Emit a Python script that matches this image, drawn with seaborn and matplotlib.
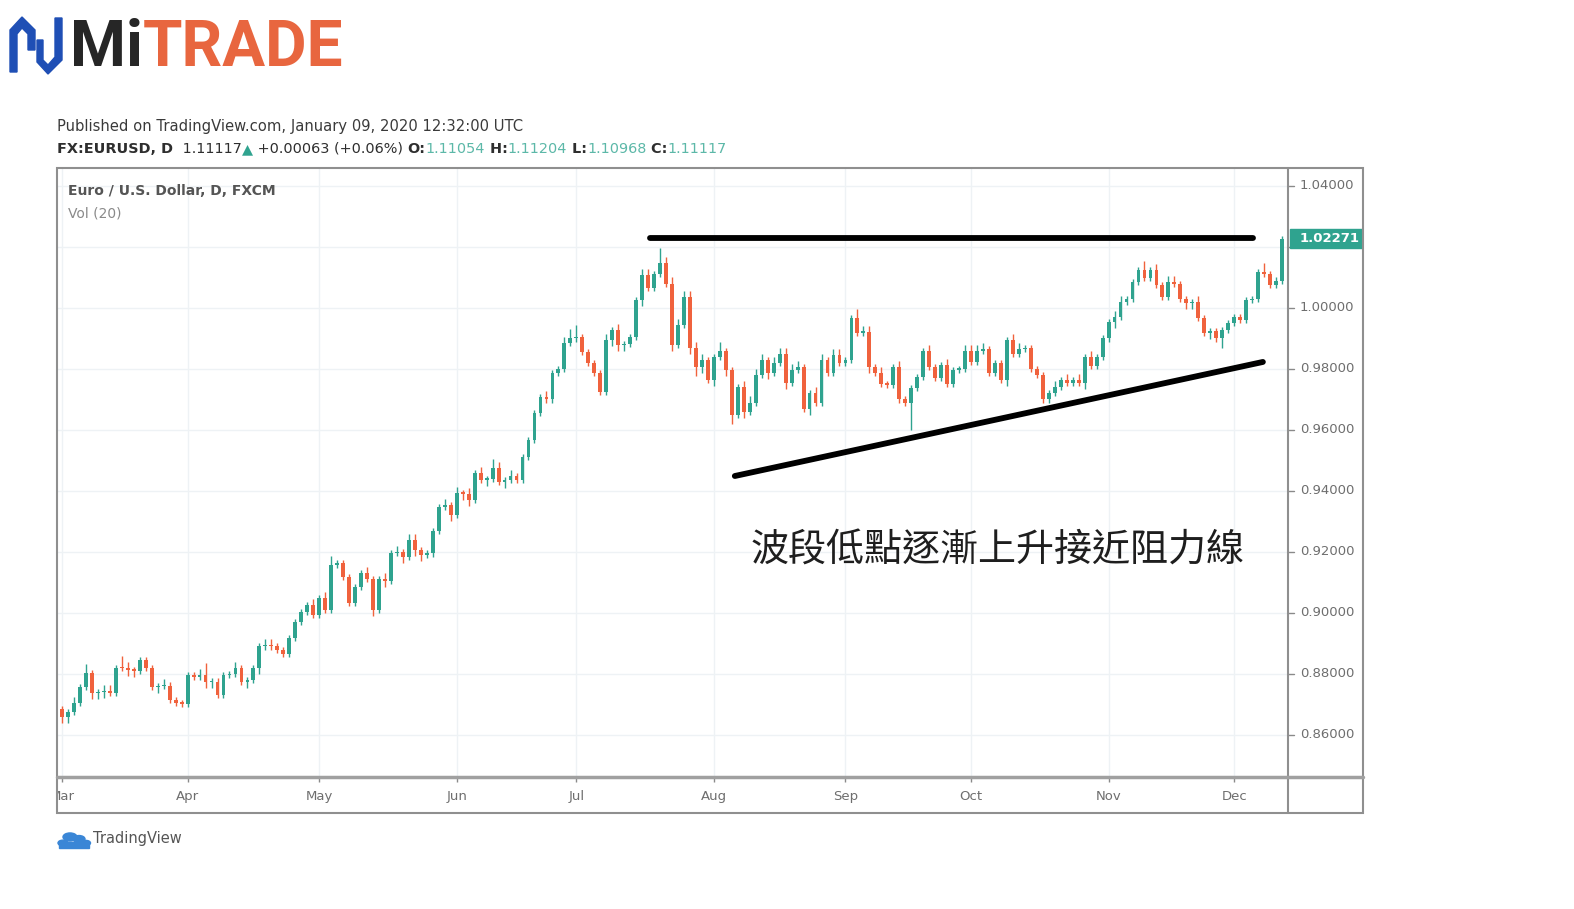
import numpy as np
import pandas as pd
import matplotlib
matplotlib.use("Agg")
import matplotlib.pyplot as plt
from matplotlib.patches import Rectangle, Polygon, Circle
from matplotlib.lines import Line2D
import seaborn as sns

W, H = 1574, 909

# EUR/USD daily closes (Mar .. early Jan)
closes = [
    0.8660, 0.8675, 0.8705, 0.8757, 0.8803, 0.8737, 0.8740, 0.8745, 0.8738, 0.8820,
    0.8818, 0.8814, 0.8810, 0.8845, 0.8818, 0.8757, 0.8760, 0.8762, 0.8714, 0.8705,
    0.8703, 0.8796, 0.8790, 0.8795, 0.8773, 0.8775, 0.8730, 0.8795, 0.8800, 0.8818,
    0.8775, 0.8780, 0.8820, 0.8890, 0.8893, 0.8890, 0.8878, 0.8865, 0.8918, 0.8970,
    0.9003, 0.9025, 0.8993, 0.9050, 0.9010, 0.9157, 0.9164, 0.9118, 0.9032, 0.9085,
    0.9130, 0.9110, 0.9010, 0.9110, 0.9105, 0.9196, 0.9200, 0.9185, 0.9240, 0.9206,
    0.9190, 0.9195, 0.9270, 0.9347, 0.9355, 0.9320, 0.9393, 0.9390, 0.9370, 0.9460,
    0.9436, 0.9438, 0.9475, 0.9430, 0.9435, 0.9450, 0.9435, 0.9510, 0.9567, 0.9655,
    0.9708, 0.9700, 0.9787, 0.9800, 0.9885, 0.9900, 0.9905, 0.9855, 0.9820, 0.9787,
    0.9725, 0.9895, 0.9928, 0.9878, 0.9882, 0.9905, 1.0026, 1.0108, 1.0066, 1.0110,
    1.0148, 1.0080, 0.9880, 0.9944, 1.0036, 0.9870, 0.9806, 0.9830, 0.9764, 0.9840,
    0.9860, 0.9797, 0.9650, 0.9740, 0.9660, 0.9690, 0.9780, 0.9830, 0.9787, 0.9820,
    0.9850, 0.9754, 0.9797, 0.9805, 0.9670, 0.9720, 0.9690, 0.9830, 0.9787, 0.9846,
    0.9820, 0.9830, 0.9967, 0.9918, 0.9922, 0.9806, 0.9787, 0.9750, 0.9748, 0.9806,
    0.9700, 0.9690, 0.9738, 0.9774, 0.9860, 0.9806, 0.9770, 0.9813, 0.9750, 0.9797,
    0.9800, 0.9860, 0.9823, 0.9860, 0.9865, 0.9787, 0.9820, 0.9764, 0.9895, 0.9850,
    0.9865, 0.9870, 0.9800, 0.9780, 0.9700, 0.9720, 0.9740, 0.9764, 0.9754, 0.9764,
    0.9754, 0.9840, 0.9810, 0.9840, 0.9900, 0.9954, 0.9970, 1.0020, 1.0030, 1.0085,
    1.0125, 1.0098, 1.0125, 1.0075, 1.0036, 1.0085, 1.0080, 1.0030, 1.0016, 1.0020,
    0.9967, 0.9918, 0.9925, 0.9900, 0.9928, 0.9950, 0.9970, 0.9960, 1.0026, 1.0030,
    1.0118, 1.0110, 1.0075, 1.0090, 1.0227,
]
first_open = 0.8685

# wick lengths beyond the body, in thousandths
wick_up = [
    1, 1, 2, 1, 3, 1, 1, 2, 2, 1, 4, 2, 1, 1, 1, 1, 1, 2, 1, 1,
    1, 1, 1, 2, 4, 1, 1, 1, 1, 2, 1, 1, 1, 1, 2, 2, 1, 1, 1, 1,
    1, 1, 2, 1, 2, 3, 1, 1, 1, 1, 1, 2, 1, 1, 2, 1, 2, 1, 2, 2,
    1, 1, 1, 1, 2, 1, 2, 1, 2, 1, 2, 1, 3, 2, 1, 2, 1, 1, 1, 1,
    1, 2, 1, 1, 2, 3, 4, 1, 1, 1, 1, 2, 1, 2, 1, 1, 1, 2, 2, 1,
    5, 2, 2, 2, 2, 2, 2, 2, 1, 1, 3, 1, 1, 1, 2, 2, 2, 2, 1, 2,
    2, 2, 2, 2, 1, 1, 2, 2, 1, 2, 2, 1, 1, 3, 2, 2, 1, 2, 1, 1,
    2, 1, 1, 1, 1, 2, 1, 1, 2, 1, 1, 2, 2, 2, 2, 1, 1, 1, 1, 2,
    2, 1, 1, 1, 1, 1, 2, 1, 2, 1, 2, 1, 2, 1, 1, 1, 2, 2, 1, 1,
    1, 3, 1, 2, 1, 2, 2, 1, 1, 1, 2, 1, 1, 1, 1, 1, 1, 1, 1, 1,
    1, 3, 1, 1, 1,
]
wick_dn = [
    2, 2, 1, 1, 1, 2, 2, 2, 1, 1, 1, 2, 2, 1, 1, 1, 2, 1, 1, 1,
    1, 1, 1, 1, 2, 2, 1, 1, 1, 1, 1, 2, 1, 2, 1, 1, 1, 1, 1, 1,
    1, 1, 1, 1, 1, 1, 1, 1, 1, 1, 1, 1, 2, 1, 2, 1, 1, 2, 1, 2,
    2, 1, 1, 1, 1, 2, 1, 2, 2, 1, 1, 2, 1, 1, 2, 1, 1, 1, 1, 1,
    1, 1, 1, 1, 1, 1, 1, 1, 1, 1, 1, 1, 2, 2, 2, 1, 1, 2, 1, 1,
    1, 1, 2, 1, 1, 2, 3, 2, 1, 2, 1, 2, 3, 1, 2, 1, 1, 1, 2, 1,
    1, 2, 1, 1, 1, 2, 1, 1, 1, 1, 1, 1, 1, 1, 1, 2, 1, 1, 1, 1,
    1, 1, 9, 1, 1, 1, 1, 1, 1, 1, 1, 1, 1, 1, 1, 1, 1, 1, 2, 1,
    1, 1, 1, 1, 1, 1, 1, 1, 1, 1, 1, 2, 1, 1, 1, 1, 2, 1, 1, 1,
    1, 1, 1, 1, 1, 1, 1, 1, 2, 2, 1, 1, 2, 1, 3, 1, 1, 1, 1, 1,
    1, 1, 1, 1, 1,
]

month_labels = ["Mar", "Apr", "May", "Jun", "Jul", "Aug", "Sep", "Oct", "Nov", "Dec"]
month_pos = [0, 21, 43, 66, 86, 109, 131, 152, 175, 196]
price_ticks = [1.04, 1.02, 1.00, 0.98, 0.96, 0.94, 0.92, 0.90, 0.88, 0.86]
last_price = 1.02271

# hand-drawn trend lines (candle index, price)
resistance_x = [98.3, 199.2]
resistance_y = [1.0229, 1.0229]
support_x = [112.5, 200.8]
support_y = [0.9449, 0.9823]

annotation = "波段低點逐漸上升接近阻力線"

GREEN = "#2fa38f"
RED = "#f0623d"
TEAL_TXT = "#5cb8a8"
FRAME = "#8f8f8f"


def fx(px):
    return px / W


def fy(py):
    return 1 - py / H


sns.set_theme(style="white")
plt.rcParams["font.family"] = ["DejaVu Sans", "Noto Sans CJK TC"]

fig = plt.figure(figsize=(W / 100, H / 100), dpi=100)
fig.patch.set_facecolor("white")

# main price panel
ax = fig.add_axes([fx(57), fy(777), (1288 - 57) / W, (777 - 168) / H])
ax_p = fig.add_axes([fx(1288), fy(777), (1363 - 1288) / W, (777 - 168) / H], sharey=ax)
ax_t = fig.add_axes([fx(57), fy(813), (1288 - 57) / W, (813 - 777) / H], sharex=ax)

df = pd.DataFrame({"close": closes})
df["open"] = [first_open] + closes[:-1]
df["high"] = df[["open", "close"]].max(axis=1) + np.array(wick_up) * 0.001
df["low"] = df[["open", "close"]].min(axis=1) - np.array(wick_dn) * 0.001
df["idx"] = np.arange(len(df))
colors = np.where(df["close"] >= df["open"], GREEN, RED)

ax.vlines(df["idx"], df["low"], df["high"], colors=colors, lw=1.0, zorder=3)
body = (df["close"] - df["open"]).abs().clip(lower=0.0005)
ax.bar(df["idx"], body, bottom=df[["open", "close"]].min(axis=1), width=0.64,
       color=colors, linewidth=0, zorder=4)

ax.set_xlim(-0.84, 205.0)
ax.set_ylim(0.8462, 1.0459)
ax.set_xticks(month_pos)
ax.set_yticks(price_ticks)
ax.grid(True, color="#eef2f5", lw=1.0)
ax.tick_params(length=0, labelleft=False, labelbottom=False)
for s in ax.spines.values():
    s.set_visible(False)

# trend lines
sns.lineplot(x=resistance_x, y=resistance_y, ax=ax, color="black", lw=4.2,
             solid_capstyle="round", zorder=6)
sns.lineplot(x=support_x, y=support_y, ax=ax, color="black", lw=4.2,
             solid_capstyle="round", zorder=6)

ax.text(0.009, 0.962, "Euro / U.S. Dollar, D, FXCM", transform=ax.transAxes,
        fontsize=10, color="#555555", fontweight="semibold", va="center")
ax.text(0.009, 0.925, "Vol (20)", transform=ax.transAxes,
        fontsize=10, color="#8a8a8a", va="center")

# price scale (the tick under the last-price tag is hidden by the tag)
ax_p.set_xlim(0, 1)
ax_p.axis("off")
for p in price_ticks:
    ax_p.plot([0, 0.08], [p, p], color="#8a8a8a", lw=1)
    if abs(p - last_price) > 0.004:
        ax_p.text(0.16, p, f"{p:.5f}", fontsize=9.5, color="#6e6e6e", va="center")
ax_p.add_patch(Rectangle((0.02, last_price - 0.0032), 0.96, 0.0064,
                         color=GREEN, zorder=5, clip_on=False))
ax_p.text(0.16, last_price, f"{last_price:.5f}", fontsize=9.5, color="white",
          fontweight="bold", va="center", zorder=6)

# time scale
ax_t.set_ylim(0, 1)
ax_t.axis("off")
ax_t.vlines(month_pos, 0.86, 1.0, color="#8a8a8a", lw=1)
for pos, lab in zip(month_pos, month_labels):
    ax_t.text(pos, 0.45, lab, ha="center", va="center", fontsize=9.5,
              color="#6e6e6e", clip_on=True)

# overlay for header, frame, logos
ov = fig.add_axes([0, 0, 1, 1], zorder=10)
ov.set_xlim(0, 1)
ov.set_ylim(0, 1)
ov.axis("off")

ov.add_patch(Rectangle((fx(57), fy(813)), (1363 - 57) / W, (813 - 168) / H,
                       fill=False, ec=FRAME, lw=1.5))
ov.add_artist(Line2D([fx(1288), fx(1288)], [fy(168), fy(813)], color=FRAME, lw=1.5))
ov.add_artist(Line2D([fx(57), fx(1363)], [fy(777), fy(777)], color="#a0a0a0", lw=2.5))

ov.text(fx(57), fy(127), "Published on TradingView.com, January 09, 2020 12:32:00 UTC",
        fontsize=10.6, color="#3a3a3a", va="center")

pieces = [
    ("FX:EURUSD, D ", "#2e2e2e", "bold"),
    (" 1.11117", "#2e2e2e", "normal"),
    ("▲", GREEN, "normal"),
    (" +0.00063 (+0.06%) ", "#2e2e2e", "normal"),
    ("O:", "#2e2e2e", "bold"),
    ("1.11054", TEAL_TXT, "normal"),
    (" H:", "#2e2e2e", "bold"),
    ("1.11204", TEAL_TXT, "normal"),
    (" L:", "#2e2e2e", "bold"),
    ("1.10968", TEAL_TXT, "normal"),
    (" C:", "#2e2e2e", "bold"),
    ("1.11117", TEAL_TXT, "normal"),
]
prev = None
for s, c, w in pieces:
    if prev is None:
        prev = ov.text(fx(57), fy(149), s, fontsize=10.35, color=c, fontweight=w, va="center")
    else:
        prev = ov.annotate(s, xy=(1, 0), xycoords=prev, fontsize=10.35, color=c,
                           fontweight=w, va="bottom", ha="left")

# annotation text
ov.text(fx(998), fy(551), annotation, ha="center", va="center", fontsize=27.4,
        color="#1e1e1e", family=["Noto Sans CJK TC"])

# MiTRADE logo
blue = "#1f4fb5"
icon_a = [(10, 72), (10, 30), (22, 17), (35, 30), (35, 50), (28, 50), (28, 34),
          (22, 28), (17, 34), (17, 72)]
icon_b = [(37, 40), (37, 62), (48, 74), (62, 60), (62, 18), (55, 18), (55, 57),
          (48, 65), (43, 60), (43, 40)]
for pts in (icon_a, icon_b):
    ov.add_patch(Polygon([(fx(x), fy(y)) for x, y in pts], closed=True, color=blue))
t_mi = ov.text(fx(70), fy(49), "Mi", fontsize=46, fontweight="bold", color="#262626",
               va="center", family=["Roboto", "DejaVu Sans"])
ov.annotate("TRADE", xy=(1, 0), xycoords=t_mi, fontsize=46, fontweight="bold",
            color="#e8663f", va="bottom", ha="left", family=["Roboto", "DejaVu Sans"])

# TradingView footer logo
cloud = "#3a86d6"
for cx, cy, r in [(63, 843, 5), (70, 837, 7), (79, 839, 6), (86, 843, 4.5)]:
    ov.add_patch(Circle((fx(cx), fy(cy)), r / W, color=cloud))
ov.add_patch(Rectangle((fx(59), fy(848)), 30 / W, 6 / H, color=cloud))
ov.text(fx(93), fy(838), "TradingView", fontsize=10.5, color="#555555", va="center")

fig.savefig("out.png", dpi=100, facecolor="white")
